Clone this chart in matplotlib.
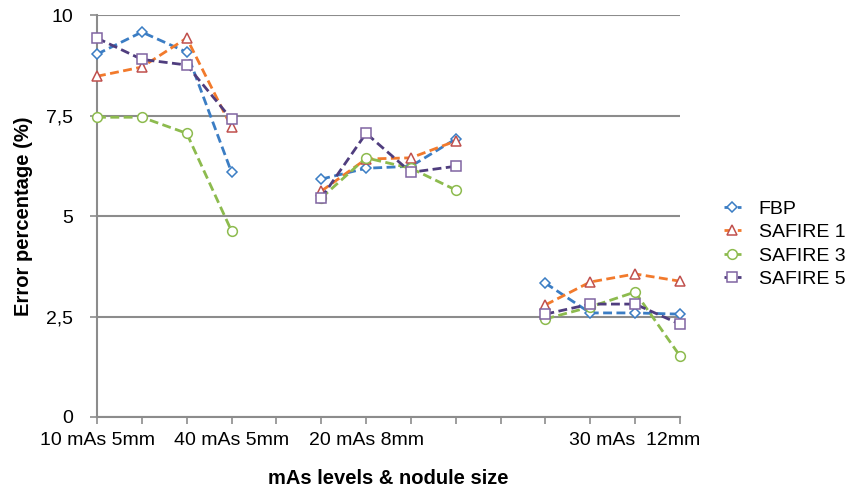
import numpy as np
import matplotlib
matplotlib.use("Agg")
import matplotlib.pyplot as plt

plt.rcParams["font.family"] = ["Liberation Sans", "DejaVu Sans"]

# =========================
# DATA
# =========================
n_cat = 14
tick_labels = {0: "10 mAs 5mm", 3: "40 mAs 5mm", 6: "20 mAs 8mm", 12: "30 mAs  12mm"}

nan = np.nan
fbp = [9.03, 9.58, 9.08, 6.09, nan, 5.92, 6.19, 6.24, 6.92, nan, 3.33, 2.59, 2.59, 2.56]
safire1 = [8.48, 8.71, 9.43, 7.21, nan, 5.62, 6.42, 6.45, 6.87, nan, 2.79, 3.36, 3.56, 3.38]
safire3 = [7.46, 7.46, 7.06, 4.63, nan, 5.45, 6.45, 6.19, 5.65, nan, 2.44, 2.74, 3.11, 1.52]
safire5 = [9.43, 8.90, 8.76, 7.41, nan, 5.45, 7.06, 6.09, 6.24, nan, 2.56, 2.81, 2.81, 2.31]

series = [
    ("FBP", fbp, "#3B7DC4", "#3B7DC4", "D", 5.5),
    ("SAFIRE 1", safire1, "#F27A2C", "#C0504D", "^", 7),
    ("SAFIRE 3", safire3, "#8DBB4E", "#8DBB4E", "o", 7),
    ("SAFIRE 5", safire5, "#4F3D7E", "#8064A2", "s", 7),
]

# =========================
# PLOT
# =========================
fig = plt.figure(figsize=(8.51, 4.9), dpi=100)
ax = fig.add_axes([0.114, 0.149, 0.685, 0.82])

x = np.arange(n_cat)
for name, vals, lc, mc, mk, ms in series:
    ax.plot(x, vals, linestyle=(0, (3.2, 1.6)), linewidth=2.0, color=lc,
            marker=mk, markersize=ms, markerfacecolor="white",
            markeredgecolor=mc, markeredgewidth=1.1, label=name, zorder=3,
            clip_on=False)

ax.set_xlim(0, n_cat - 1)
ax.set_ylim(0, 10)
ax.set_yticks([0, 2.5, 5, 7.5, 10])
ax.set_yticklabels(["0", "2,5", "5", "7,5", "10"])
ax.set_xticks(x)
ax.set_xticklabels([tick_labels.get(i, "") for i in x])

ax.grid(axis="y", color="#8c8c8c", linewidth=1.5)
ax.set_axisbelow(True)
for s in ["top", "right"]:
    ax.spines[s].set_visible(False)
for s in ["left", "bottom"]:
    ax.spines[s].set_color("#8c8c8c")
    ax.spines[s].set_linewidth(1.5)
ax.tick_params(axis="both", colors="#8c8c8c", width=1.2, length=5, labelsize=14,
               labelcolor="black")
ax.tick_params(axis="x", pad=6)
ax.tick_params(axis="y", pad=12)

ax.set_xlabel("mAs levels & nodule size", fontsize=14.5, fontweight="bold", labelpad=14)
ax.set_ylabel("Error percentage (%)", fontsize=14.5, fontweight="bold", labelpad=10)

ax.legend(loc="center left", bbox_to_anchor=(1.045, 0.43), frameon=False,
          fontsize=14, handlelength=0.9, handletextpad=0.9, labelspacing=0.3)

fig.savefig("out.png", dpi=100)
